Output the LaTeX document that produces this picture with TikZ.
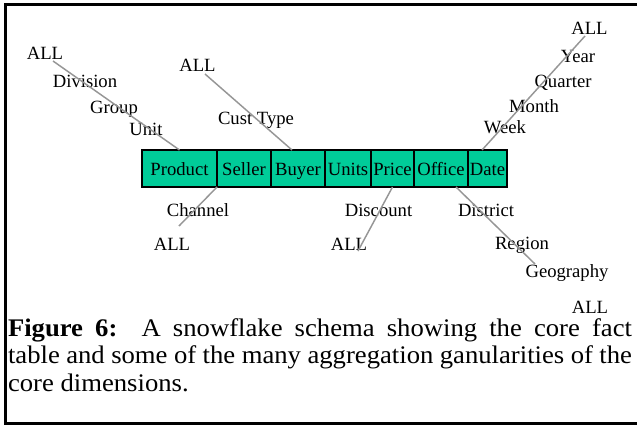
\documentclass[tikz,border=0pt]{standalone}
\usepackage{fontspec}
\setmainfont{Liberation Serif}
\usepackage{xcolor}
\usepackage{tikz}
\usetikzlibrary{positioning}
\definecolor{factgreen}{RGB}{0,204,153}
\definecolor{linegray}{RGB}{150,150,150}

\begin{document}
\begin{tikzpicture}
            [x=0.75pt, y=-0.75pt,
            every node/.style={inner sep=0pt, outer sep=0pt},
            cell/.style={rectangle, draw=black, line width=1.5pt, fill=factgreen,
                minimum height=27.75pt, text height=11pt, text depth=0pt,
                font=\fontsize{14}{16}\selectfont},
            grain/.style={anchor=base, font=\fontsize{14}{16}\selectfont},
            rollup/.style={draw=linegray, line width=1.1pt}]

            \useasboundingbox (0,0) rectangle (637,426);
            \draw[line width=2.25pt] (637,4.5) -- (5.5,4.5) -- (5.5,423.5) -- (637,423.5);

            \node[cell, minimum width=56.25pt] (product) at (179.5,168.5) {Product};
            \node[cell, minimum width=40.5pt, right=0pt of product] (seller) {Seller};
            \node[cell, minimum width=40.5pt, right=0pt of seller] (buyer) {Buyer};
            \node[cell, minimum width=34.5pt, right=0pt of buyer] (units) {Units};
            \node[cell, minimum width=32.25pt, right=0pt of units] (price) {Price};
            \node[cell, minimum width=40.5pt, right=0pt of price] (office) {Office};
            \node[cell, minimum width=29.25pt, right=0pt of office] (date) {Date};

            \node[grain] (prodAll) at (45,59) {ALL};
            \node[grain] (division) at (85,87) {Division};
            \node[grain] (group) at (114,113) {Group};
            \node[grain] (unit) at (146,135) {Unit};

            \node[grain] (buyerAll) at (197.5,71) {ALL};
            \node[grain] (custType) at (256,124) {Cust Type};

            \node[grain] (dateAll) at (589.5,34) {ALL};
            \node[grain] (year) at (578,62) {Year};
            \node[grain] (quarter) at (563,87) {Quarter};
            \node[grain] (month) at (534,112) {Month};
            \node[grain] (week) at (505,133) {Week};

            \node[grain] (channel) at (198,216) {Channel};
            \node[grain] (chanAll) at (172,250) {ALL};

            \node[grain] (discount) at (378.5,216) {Discount};
            \node[grain] (priceAll) at (349,250) {ALL};

            \node[grain] (district) at (486,216) {District};
            \node[grain] (region) at (522,249) {Region};
            \node[grain] (geography) at (567,277) {Geography};
            \node[grain] (geoAll) at (590,313) {ALL};

            \coordinate (prodTop) at (53,61);
            \coordinate (buyerFoot) at ([xshift=-4.5pt]buyer.north);
            \coordinate (buyerTop) at (205,74);
            \coordinate (dateFoot) at ([xshift=-4.1pt]date.north);
            \coordinate (dateTop) at (585,36);
            \coordinate (chanEnd) at (179,226);
            \coordinate (priceEnd) at (358,251);
            \coordinate (officeFoot) at ([xshift=11.25pt]office.south);
            \coordinate (officeEnd) at (535,264);

            \draw[rollup] (product.north) -- (prodTop);
            \draw[rollup] (buyerFoot) -- (buyerTop);
            \draw[rollup] (dateFoot) -- (dateTop);
            \draw[rollup] (seller.south west) -- (chanEnd);
            \draw[rollup] (price.south) -- (priceEnd);
            \draw[rollup] (officeFoot) -- (officeEnd);

            \node[anchor=north west, yscale=0.95, text width=468pt, align=justify,
                font=\fontsize{20}{21.7}\selectfont] (caption) at (8,318.5)
                {\textbf{Figure 6:}\ \ A snowflake schema showing the core fact\linebreak
                table and some of the many aggregation ganularities of the\linebreak
                core dimensions.};
        \end{tikzpicture}
\end{document}
